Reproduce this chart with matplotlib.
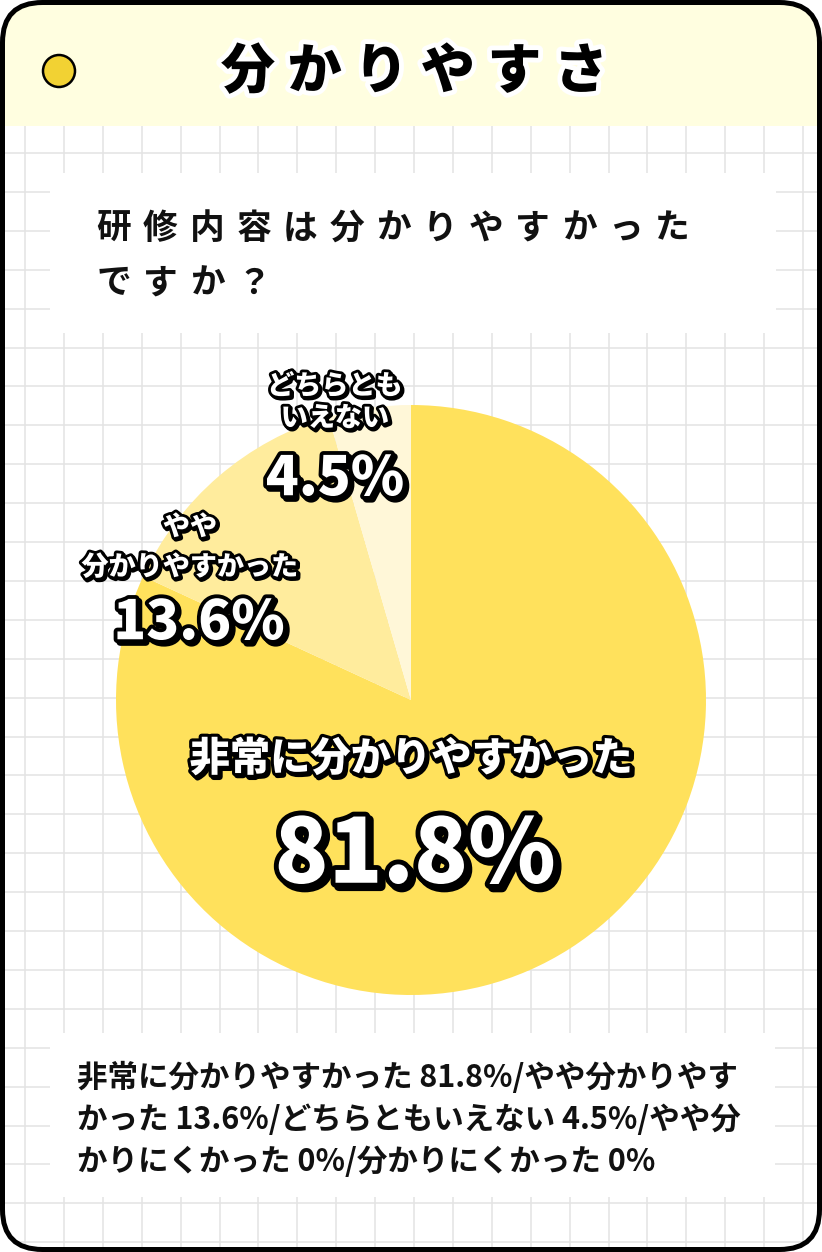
import matplotlib
matplotlib.use("Agg")
import matplotlib.pyplot as plt
from matplotlib.patches import FancyBboxPatch, Rectangle, Circle
import matplotlib.patheffects as pe

# ---------------- data ----------------
title = "分かりやすさ"
question_lines = ["研修内容は分かりやすかった", "ですか？"]
categories = ["非常に分かりやすかった", "やや分かりやすかった", "どちらともいえない",
              "やや分かりにくかった", "分かりにくかった"]
values = [81.8, 13.6, 4.5, 0.0, 0.0]
slice_colors = ["#FFE15C", "#FFEC9D", "#FFF7D8", "#FFFFFF", "#FFFFFF"]
label_lines = [["非常に分かりやすかった"], ["やや", "分かりやすかった"], ["どちらとも", "いえない"]]
value_labels = ["81.8%", "13.6%", "4.5%"]
footnote_lines = ["非常に分かりやすかった 81.8%/やや分かりやす",
                  "かった 13.6%/どちらともいえない 4.5%/やや分",
                  "かりにくかった 0%/分かりにくかった 0%"]

# ---------------- setup ----------------
plt.rcParams["font.family"] = ["Noto Sans CJK JP", "DejaVu Sans"]
W, H = 822, 1252
fig = plt.figure(figsize=(W / 100, H / 100), dpi=100, facecolor="white")
ax = fig.add_axes([0, 0, 1, 1])


def Y(y):
    return H - y


# card background
card_bg = FancyBboxPatch((2.5, 2.5), W - 5, H - 5,
                         boxstyle="round,pad=0,rounding_size=40",
                         fc="white", ec="none", zorder=0)
ax.add_patch(card_bg)

# grid
gx0, gy0, step = 25.0, 153.0, 38.9
k = 0
while gx0 + k * step < W:
    ln, = ax.plot([gx0 + k * step] * 2, [0, H], color="#E3E3E3", lw=1.1, zorder=1)
    ln.set_clip_path(card_bg)
    k += 1
k = -1
while gy0 + k * step < H:
    ln, = ax.plot([0, W], [Y(gy0 + k * step)] * 2, color="#E3E3E3", lw=1.1, zorder=1)
    ln.set_clip_path(card_bg)
    k += 1

# header band
hdr = Rectangle((0, Y(126)), W, 126, fc="#FFFEE0", ec="none", zorder=2)
ax.add_patch(hdr)
hdr.set_clip_path(card_bg)
ax.add_patch(Circle((59, Y(71)), 16, fc="#F2D233", ec="black", lw=1.8, zorder=3))
for i, ch in enumerate(title):
    ax.text(248 + i * 66.6, Y(72), ch, fontsize=39, weight="black", color="black",
            ha="center", va="center", zorder=4,
            path_effects=[pe.Stroke(linewidth=7, foreground="white"), pe.Normal()])

# white boxes
ax.add_patch(Rectangle((50, Y(333)), 726, 160, fc="white", ec="none", zorder=2))
ax.add_patch(Rectangle((50, Y(1197)), 725, 164, fc="white", ec="none", zorder=2))

# question text (letter spaced)
for li, line in enumerate(question_lines):
    for i, ch in enumerate(line):
        ax.text(114 + i * 46.5, Y(228 + li * 55), ch, fontsize=25, weight="bold",
                color="#111111", ha="center", va="center", zorder=4)

# pie
vals = [v for v in values if v > 0]
cols = [c for v, c in zip(values, slice_colors) if v > 0]
wedges, _ = ax.pie(vals, colors=cols, startangle=90, counterclock=False,
                   center=(411, Y(700)), radius=295,
                   wedgeprops=dict(linewidth=0, edgecolor="none"))
for w in wedges:
    w.set_zorder(3)


def outlined(x, y, s, size, lw, sh):
    ax.text(x, Y(y), s, fontsize=size, weight="black", color="white",
            ha="center", va="center", zorder=5,
            path_effects=[pe.Stroke(linewidth=lw, foreground="black", offset=(sh, -sh)),
                          pe.Stroke(linewidth=lw, foreground="black"),
                          pe.Normal()])


# main slice
outlined(411, 759, label_lines[0][0], 29, 4.5, 1.5)
outlined(415, 856, value_labels[0], 64, 7, 2.5)
# second slice
outlined(190, 527, label_lines[1][0], 19.5, 4, 1.2)
outlined(190, 567, label_lines[1][1], 19.5, 4, 1.2)
outlined(199, 623, value_labels[1], 39, 5.5, 2)
# third slice
outlined(335, 386, label_lines[2][0], 19.5, 4, 1.2)
outlined(335, 418, label_lines[2][1], 19.5, 4, 1.2)
outlined(335, 479, value_labels[2], 39, 5.5, 2)

# footnote
for li, line in enumerate(footnote_lines):
    ax.text(77, Y(1078 + li * 42), line, fontsize=22, weight="bold", color="#111111",
            ha="left", va="center", zorder=4)

# card border
ax.add_patch(FancyBboxPatch((2.5, 2.5), W - 5, H - 5,
                            boxstyle="round,pad=0,rounding_size=40",
                            fc="none", ec="black", lw=3.6, zorder=10))

ax.set_xlim(0, W)
ax.set_ylim(0, H)
ax.set_aspect("auto")
ax.axis("off")
fig.savefig("out.png", dpi=100, facecolor="white")
